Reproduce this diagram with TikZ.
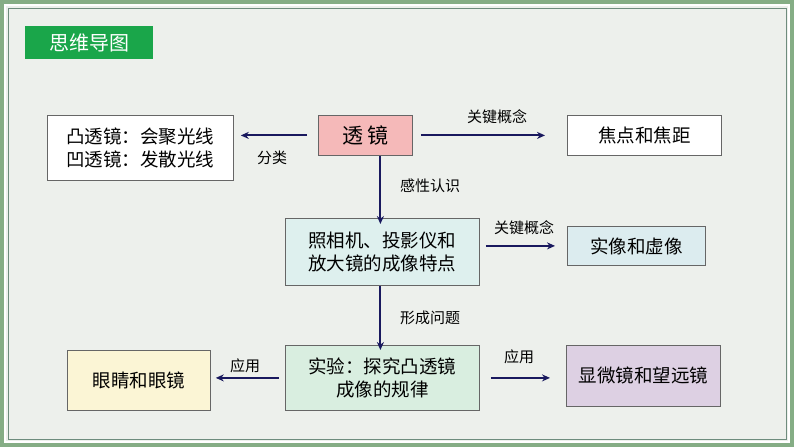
\documentclass[tikz,border=0pt]{standalone}
\usepackage{fontspec}
\usetikzlibrary{arrows.meta}
\setmainfont{Noto Sans CJK SC}
\begin{document}
\begin{tikzpicture}[x=1pt,y=-1pt,
  box/.style={draw=black!60,line width=0.8pt,minimum width=#1,inner sep=0pt,align=center,font=\fontsize{18.5}{23}\selectfont},
  arr/.style={-{Stealth[length=8pt,width=7pt]},draw=blue!30!black!90,line width=2pt},
  lbl/.style={font=\fontsize{15}{17}\selectfont}]
\useasboundingbox (0,0) rectangle (794,447);
\fill[green!20!gray!80] (0,0) rectangle (794,447);
\filldraw[fill={rgb,255:red,237;green,240;blue,236},draw=white,line width=1.5pt] (5,5) rectangle (789,442);
\draw[draw={rgb,255:red,110;green,140;blue,125},line width=1pt] (8,8) rectangle (786,439);
\node[fill={rgb,255:red,26;green,166;blue,74},text=white,minimum width=128,minimum height=33,font=\fontsize{20}{22}\selectfont,anchor=north west] (title) at (25,26) {思维导图};
\node[box=186,minimum height=65,fill=white,anchor=north west] (cls) at (47,115) {凸透镜：会聚光线\\凹透镜：发散光线};
\node[box=94,minimum height=40,fill={rgb,255:red,245;green,185;blue,185},anchor=north west,font=\fontsize{21}{23}\selectfont] (lens) at (318,115) {透\ 镜};
\node[box=154,minimum height=40,fill=white,anchor=north west] (focus) at (567,115) {焦点和焦距};
\node[box=194,minimum height=67,fill={rgb,255:red,222;green,240;blue,238},anchor=north west] (cam) at (285,218) {照相机、投影仪和\\放大镜的成像特点};
\node[box=138,minimum height=39,fill={rgb,255:red,220;green,236;blue,239},anchor=north west] (img) at (567,226) {实像和虚像};
\node[box=194,minimum height=65,fill={rgb,255:red,217;green,238;blue,224},anchor=north west] (exp) at (285,345) {实验：探究凸透镜\\成像的规律};
\node[box=143,minimum height=60,fill={rgb,255:red,251;green,245;blue,213},anchor=north west] (eye) at (67,350) {眼睛和眼镜};
\node[box=154,minimum height=61,fill={rgb,255:red,221;green,208;blue,227},anchor=north west] (mic) at (566,345) {显微镜和望远镜};
\draw[arr] ([xshift=-11]lens.west) -- ([xshift=7]lens.west -| cls.east);
\node[lbl] (l1) at (272,158) {分类};
\draw[arr] ([xshift=8]lens.east) -- ([xshift=-22]lens.east -| focus.west);
\node[lbl] (l2) at (497,117) {关键概念};
\draw[arr] ([xshift=15]lens.south) -- ([xshift=15,yshift=-6]lens.south |- cam.north);
\node[lbl] (l3) at (430,186) {感性认识};
\draw[arr] ([xshift=6]img.west -| cam.east) -- ([xshift=-12]img.west);
\node[lbl] (l4) at (524,228) {关键概念};
\draw[arr] ([xshift=-2]cam.south) -- ([xshift=-2,yshift=-5]exp.north);
\node[lbl] (l5) at (430,318) {形成问题};
\draw[arr] ([xshift=-6]exp.west) -- ([xshift=5]exp.west -| eye.east);
\node[lbl] (l6) at (245,366) {应用};
\draw[arr] ([xshift=11]exp.east) -- ([xshift=-16]exp.east -| mic.west);
\node[lbl] (l7) at (519,357) {应用};
\end{tikzpicture}
\end{document}
